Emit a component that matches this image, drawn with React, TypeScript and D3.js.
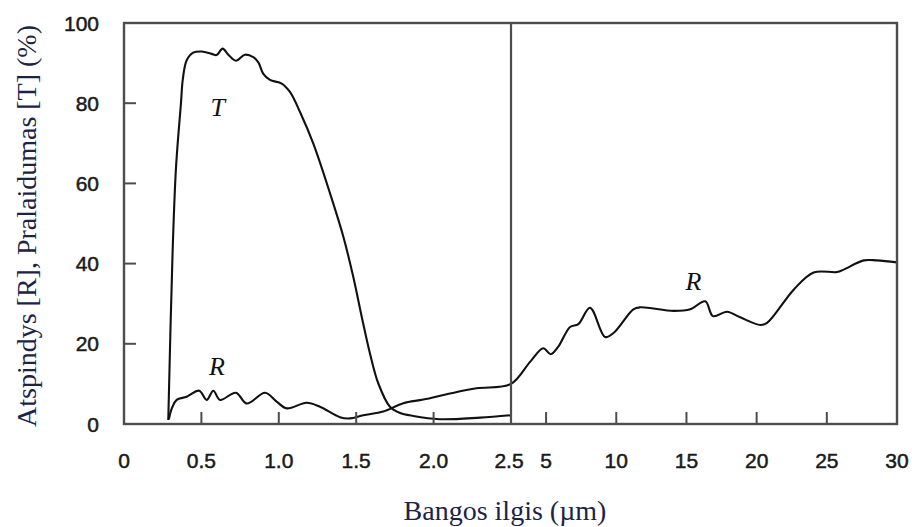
import React from "react";
import * as d3 from "d3";

// Transmittance T (%) vs wavelength (µm), visible / near-IR range
const tWave = [0.286, 0.314, 0.336, 0.368, 0.38, 0.405, 0.447, 0.502, 0.566, 0.598, 0.637, 0.674, 0.723, 0.781, 0.835, 0.868, 0.9, 0.943, 1.019, 1.072, 1.137, 1.223, 1.331, 1.417, 1.481, 1.536, 1.589, 1.643, 1.718, 1.78, 1.869, 2.04, 2.3, 2.5];
const tValue = [1, 43, 64, 80, 86, 90.7, 92.6, 92.9, 92.3, 92.0, 93.6, 92.1, 90.6, 92.1, 91.5, 90.2, 87.3, 85.8, 84.9, 82.8, 77.8, 69.9, 57.5, 46.7, 36.7, 26.7, 17.6, 10.1, 4.3, 2.8, 2.0, 1.2, 1.6, 2.2];

// Reflectance R (%) vs wavelength (µm), 0.3–30 µm
const rWave = [0.29, 0.31, 0.34, 0.405, 0.486, 0.534, 0.577, 0.62, 0.723, 0.793, 0.911, 0.986, 1.051, 1.18, 1.266, 1.395, 1.46, 1.546, 1.675, 1.804, 1.934, 2.106, 2.278, 2.5,
  3.86, 4.8, 5.33, 5.87, 6.71, 7.3, 8.13, 9.2, 9.8, 11.22, 11.7, 14.08, 15.27, 16.34, 16.89, 17.89, 18.83, 20.26, 20.74, 22.64, 24.06, 25.73, 26.2, 27.63, 28.58, 30];
const rValue = [1.2, 4, 6.0, 6.8, 8.3, 6.0, 8.3, 6.0, 7.8, 5.1, 7.8, 5.6, 3.9, 5.3, 4.3, 1.7, 1.4, 2.2, 3.1, 5.2, 6.1, 7.6, 8.9, 10.0,
  15.5, 18.9, 17.4, 19.3, 24.2, 24.9, 29.0, 21.7, 22.7, 28.6, 29.1, 28.2, 28.6, 30.6, 26.9, 28.0, 26.6, 24.7, 25.2, 33.5, 37.8, 37.9, 38.5, 40.8, 40.8, 40.3];

const yTicks = [0, 20, 40, 60, 80, 100];
const xTicksNear = [0, 0.5, 1.0, 1.5, 2.0, 2.5];
const xTicksFar = [5, 10, 15, 20, 25, 30];
const xTickLabelsNear = ["0", "0.5", "1.0", "1.5", "2.0", "2.5"];
const xTickLabelsFar = ["5", "10", "15", "20", "25", "30"];

const curveLabels = [
  { text: "T", wave: 0.606, value: 76.7 },
  { text: "R", wave: 0.6, value: 12.3 },
  { text: "R", wave: 15.5, value: 33.3 },
];

const W = 912;
const H = 527;
const left = 124;
const right = 897;
const top = 23;
const bottom = 424;

export default function App() {
  // Two linear segments: 0–2.5 µm and 2.5–30 µm, joined at the divider
  const x = d3.scaleLinear().domain([0, 2.5, 30]).range([left, 511, right]);
  const y = d3.scaleLinear().domain([0, 100]).range([bottom, top]);

  const tLine = d3
    .line<number>()
    .x((_, i) => x(tWave[i]))
    .y((d) => y(d))
    .curve(d3.curveCatmullRom.alpha(0.5));
  const rLine = d3
    .line<number>()
    .x((_, i) => x(rWave[i]))
    .y((d) => y(d))
    .curve(d3.curveCatmullRom.alpha(0.5));

  const axisColor = "#4d4d4d";
  const tickFont = "'Liberation Sans', Arial, sans-serif";
  const titleFont = "'Liberation Serif', 'Times New Roman', serif";
  const titleColor = "#1b2447";

  return (
    <svg width={W} height={H} style={{ position: "absolute", left: 0, top: 0, background: "#fff" }}>
      <rect x={0} y={0} width={W} height={H} fill="#fff" />

      {/* curves */}
      <path d={tLine(tValue) ?? ""} fill="none" stroke="#111" strokeWidth={2.1} strokeLinejoin="round" />
      <path d={rLine(rValue) ?? ""} fill="none" stroke="#111" strokeWidth={2.1} strokeLinejoin="round" />

      {/* frame and divider */}
      <rect x={left} y={top} width={right - left} height={bottom - top} fill="none" stroke={axisColor} strokeWidth={2.4} />
      <line x1={x(2.5)} x2={x(2.5)} y1={top} y2={bottom} stroke={axisColor} strokeWidth={2.2} />

      {/* y ticks */}
      {yTicks.map((v) => (
        <g key={"y" + v}>
          {v > 0 && v < 100 && (
            <line x1={left} x2={left + 12} y1={y(v)} y2={y(v)} stroke={axisColor} strokeWidth={2} />
          )}
          <text
            x={99}
            y={y(v)}
            dy="0.36em"
            textAnchor="end"
            fontFamily={tickFont}
            fontSize={21}
            fill="#1a1a1a"
            stroke="#1a1a1a"
            strokeWidth={0.5}
          >
            {v}
          </text>
        </g>
      ))}

      {/* x ticks, near range */}
      {xTicksNear.map((v, i) => (
        <g key={"xn" + v}>
          {v > 0 && v < 2.5 && (
            <line x1={x(v)} x2={x(v)} y1={bottom} y2={bottom - 12} stroke={axisColor} strokeWidth={2} />
          )}
          <text
            x={x(v) - (v === 2.5 ? 2 : 0)}
            y={468}
            textAnchor="middle"
            fontFamily={tickFont}
            fontSize={21}
            fill="#1a1a1a"
            stroke="#1a1a1a"
            strokeWidth={0.5}
          >
            {xTickLabelsNear[i]}
          </text>
        </g>
      ))}

      {/* x ticks, far range */}
      {xTicksFar.map((v, i) => (
        <g key={"xf" + v}>
          {v < 30 && (
            <line x1={x(v)} x2={x(v)} y1={bottom} y2={bottom - 12} stroke={axisColor} strokeWidth={2} />
          )}
          <text
            x={x(v)}
            y={468}
            textAnchor="middle"
            fontFamily={tickFont}
            fontSize={21}
            fill="#1a1a1a"
            stroke="#1a1a1a"
            strokeWidth={0.5}
          >
            {xTickLabelsFar[i]}
          </text>
        </g>
      ))}

      {/* curve labels */}
      {curveLabels.map((c, i) => (
        <text
          key={"c" + i}
          x={x(c.wave)}
          y={y(c.value)}
          textAnchor="middle"
          fontFamily={titleFont}
          fontStyle="italic"
          fontSize={26}
          fill="#111"
        >
          {c.text}
        </text>
      ))}

      {/* axis titles */}
      <text
        x={505}
        y={520}
        textAnchor="middle"
        fontFamily={titleFont}
        fontSize={28}
        fill={titleColor}
      >
        Bangos ilgis (µm)
      </text>
      <text
        transform="translate(36,226) rotate(-90)"
        textAnchor="middle"
        fontFamily={titleFont}
        fontSize={28}
        fill={titleColor}
      >
        Atspindys [R], Pralaidumas [T] (%)
      </text>
    </svg>
  );
}
